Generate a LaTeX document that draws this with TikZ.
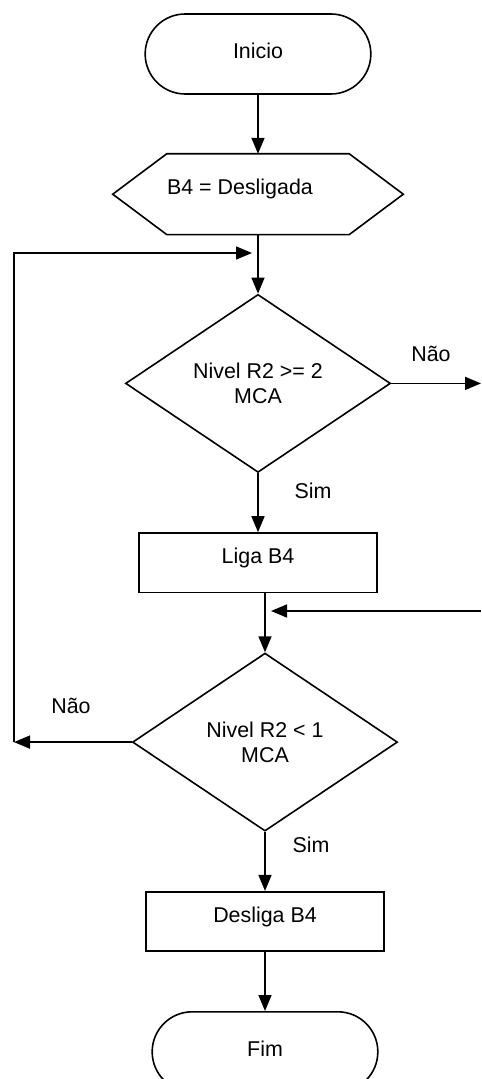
\documentclass[tikz,border=0pt]{standalone}
\usepackage{fontspec}
\setmainfont{Liberation Sans}
\usetikzlibrary{arrows.meta,positioning,shapes.geometric,shapes.misc}

\begin{document}
\begin{tikzpicture}[
        x=0.5pt, y=-0.5pt,
        node distance=29.5pt,
        every node/.style={font=\fontsize{10.7}{12.5}\selectfont},
        term/.style={draw, thick, rounded rectangle, minimum width=119.5pt, minimum height=40pt, text height=0.75em, text depth=0.25em},
        prep/.style={rectangle, minimum width=83.5pt, minimum height=40pt, inner sep=0pt, text height=0.75em, text depth=0.69em},
        decision/.style={draw, thick, diamond, align=center, inner sep=0pt, minimum width=132.5pt, minimum height=89pt},
        process/.style={draw, thick, rectangle, minimum width=119pt, minimum height=29.75pt, text height=0.75em, text depth=0.69em},
        lbl/.style={inner sep=0pt},
        arrow/.style={-{Triangle[length=8pt,width=6.5pt]}, thick}
    ]
    \useasboundingbox (0,0) rectangle (481,1079);
    \node[term] (inicio) at (258,54) {Inicio};
    \node[prep, below=of inicio] (b4off) {B4 = Desligada\hspace*{18pt}};
    \node[decision, below=of b4off] (nivelalto) {Nivel R2 >= 2\\MCA};
    \node[process, below=of nivelalto] (ligab4) {Liga B4};
    \node[decision, below=of ligab4, xshift=3.5pt] (nivelbaixo) {Nivel R2 < 1\\MCA};
    \node[process, below=of nivelbaixo] (desligab4) {Desliga B4};
    \node[term, below=of desligab4] (fim) {Fim};

    % contorno hexagonal da preparacao
    \draw[thick] (b4off.north west) -- (b4off.north east) -- ([xshift=27pt]b4off.east)
        -- (b4off.south east) -- (b4off.south west) -- ([xshift=-27pt]b4off.west) -- cycle;

    % pontos livres dos retornos
    \coordinate (esq) at (14,0);
    \coordinate (dir) at (481,0);
    \coordinate (volta) at (252,253);
    \coordinate (retorno) at (481,611);

    \draw[arrow] (inicio) -- (b4off);
    \draw[arrow] (b4off) -- (nivelalto);
    \draw[arrow] (nivelalto) -- (ligab4);
    \draw[arrow] (ligab4.south -| nivelbaixo.north) -- (nivelbaixo);
    \draw[arrow] (nivelbaixo) -- (desligab4);
    \draw[arrow] (desligab4) -- (fim);

    \draw[arrow] (nivelalto.east) -- (nivelalto.east -| dir);
    \draw[arrow, shorten >=3pt] (retorno) -- (retorno -| nivelbaixo.north);
    \draw[arrow] (nivelbaixo.west) -- (nivelbaixo.west -| esq);
    \draw[arrow] (nivelbaixo.west -| esq) |- (volta);

    \node[lbl] (nao1) at (431,354) {Não};
    \node[lbl] (sim1) at (313,491) {Sim};
    \node[lbl] (nao2) at (71,706) {Não};
    \node[lbl] (sim2) at (311,845) {Sim};
\end{tikzpicture}
\end{document}
